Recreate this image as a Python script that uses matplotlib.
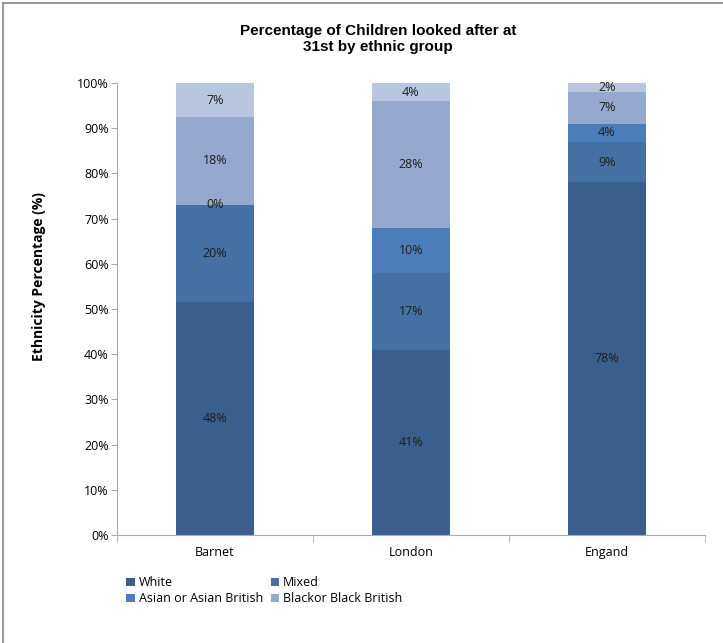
import matplotlib
matplotlib.use("Agg")
import matplotlib.pyplot as plt
from matplotlib.lines import Line2D
import numpy as np

categories = ["Barnet", "London", "Engand"]
white = [48, 41, 78]
mixed = [20, 17, 9]
asian = [0, 10, 4]
black = [18, 28, 7]
other = [7, 4, 2]
series_names = ["White", "Mixed", "Asian or Asian British", "Blackor Black British", None]
colors = ["#3b5f8c", "#4570a3", "#4b7dba", "#95a9cf", "#b9c6e0"]
yticks = [0, 10, 20, 30, 40, 50, 60, 70, 80, 90, 100]

series = [white, mixed, asian, black, other]
data = np.array(series, dtype=float)
totals = data.sum(axis=0)
pct = data / totals * 100

W, H = 723, 643
fig = plt.figure(figsize=(W / 100, H / 100), dpi=100)
fig.patch.set_facecolor("white")
# partial frame visible in the reference (left and top edges)
fig.lines.append(Line2D([3 / W, 3 / W], [0, 1 - 2.5 / H], transform=fig.transFigure,
                        color="#888888", linewidth=1.2))
fig.lines.append(Line2D([3 / W, 1], [1 - 2.5 / H, 1 - 2.5 / H], transform=fig.transFigure,
                        color="#888888", linewidth=1.2))

tick_font = ["Open Sans", "DejaVu Sans"]
ax = fig.add_axes([117 / W, 1 - 535 / H, (705 - 117) / W, (535 - 83) / H])
x = np.arange(len(categories))
bottom = np.zeros(len(categories))
handles = []
for i, (vals, raw) in enumerate(zip(pct, data)):
    bars = ax.bar(x, vals, bottom=bottom, width=0.40, color=colors[i], edgecolor="none")
    handles.append(bars)
    for xi, b, v, r in zip(x, bottom, vals, raw):
        ax.text(xi, b + v / 2, f"{int(r)}%", ha="center", va="center", fontsize=9,
                family=tick_font, color="#1e1e1e")
    bottom += vals

ax.set_xlim(-0.5, len(categories) - 0.5)
ax.set_ylim(0, 100)
ax.set_yticks(yticks)
ax.set_yticklabels([f"{t}%" for t in yticks], family=tick_font, fontsize=9)
ax.set_xticks(x)
ax.set_xticklabels(categories, family=tick_font, fontsize=9)
ax.tick_params(axis="x", length=0, pad=8)
ax.set_xticks(np.arange(len(categories) + 1) - 0.5, minor=True)
ax.tick_params(axis="x", which="minor", length=5, color="#aaaaaa", direction="out")
ax.tick_params(axis="y", length=4, color="#aaaaaa", direction="out", pad=2)
for s in ["top", "right"]:
    ax.spines[s].set_visible(False)
for s in ["left", "bottom"]:
    ax.spines[s].set_color("#aaaaaa")

fig.text(39 / W, 1 - 277 / H, "Ethnicity Percentage (%)", rotation=90, ha="center", va="center",
         fontsize=10, fontweight="bold", family=tick_font)
fig.text(378 / W, 1 - 39 / H, "Percentage of Children looked after at\n31st by ethnic group",
         ha="center", va="center", fontsize=11, fontweight="bold",
         family=["Liberation Sans", "DejaVu Sans"], linespacing=1.25)

order = [0, 2, 1, 3]
leg = fig.legend([handles[i] for i in order], [series_names[i] for i in order], ncol=2,
                 loc="upper left", bbox_to_anchor=(120 / W, 1 - 570 / H), frameon=False,
                 prop={"family": tick_font, "size": 9}, handlelength=0.7, handleheight=0.7,
                 handletextpad=0.3, columnspacing=0.6, labelspacing=0.25, borderpad=0)

fig.savefig("out.png", dpi=100)
